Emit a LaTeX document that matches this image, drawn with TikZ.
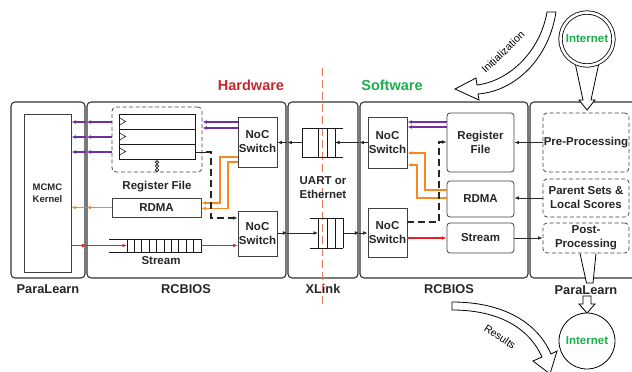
\documentclass[tikz,border=0pt]{standalone}
\usepackage{fontspec}
\setmainfont{Liberation Sans}
\usetikzlibrary{arrows.meta}

\definecolor{lnpurple}{HTML}{7030A0}
\definecolor{lnorange}{HTML}{F7891F}
\definecolor{lnred}{HTML}{EE1C25}
\definecolor{hwred}{HTML}{C4262E}
\definecolor{swgreen}{HTML}{1EAD4B}
\definecolor{divcol}{HTML}{EA7A5C}

\newcommand\boxfont{\fontsize{11.5}{14}\selectfont\bfseries}
\newcommand\kernfont{\fontsize{9.5}{12}\selectfont\bfseries}
\newcommand\tagfont{\fontsize{12.8}{15}\selectfont\bfseries}
\newcommand\headfont{\fontsize{14.5}{17}\selectfont\bfseries}
\newcommand\bandfont{\fontsize{10.5}{12}\selectfont}

\begin{document}
\begin{tikzpicture}[x=1pt,y=-1pt,>={Latex[length=4.5pt,width=3.8pt]},
  panel/.style={draw=black!80,line width=1.1pt,rounded corners=4pt,minimum height=176pt,inner sep=0pt},
  blk/.style={draw=black!75,line width=0.75pt,align=center,font=\boxfont,inner sep=0pt,text=black!85},
  rblk/.style={blk,rounded corners=3pt},
  dblk/.style={blk,dash pattern=on 4pt off 2.5pt,rounded corners=4pt},
  tag/.style={font=\tagfont,text=black!85},
  wire/.style={draw=black!85,line width=1pt},
  pwire/.style={draw=lnpurple,line width=1.2pt},
  owire/.style={draw=lnorange,line width=1.2pt},
  rwire/.style={draw=lnred,line width=1.2pt},
  dwire/.style={wire,line width=1.1pt,dash pattern=on 7pt off 4pt},
  qline/.style={draw=black!90,line width=0.75pt},
  hollow/.style={draw=black,line width=0.8pt,fill=white,line join=miter},
  netball/.style={circle,draw=black,line width=0.8pt,fill=white,text=swgreen,font=\boxfont,inner sep=0pt},
]
\useasboundingbox (0,0) rectangle (632,372);
\clip (0,0) rectangle (632,372);

% panels
\node[panel,minimum width=74pt] (plL) at (48,190) {};
\node[panel,minimum width=199pt] (hw) at (186.5,190) {};
\node[panel,minimum width=70pt] (xl) at (323,190) {};
\node[panel,minimum width=168pt] (sw) at (444,190) {};
\node[panel,minimum width=115pt] (plR) at (587.5,190) {};

\node[tag] (tplL) at (48,289) {ParaLearn};
\node[tag] (thw) at (186,289) {RCBIOS};
\node[tag] (txl) at (323,289) {XLink};
\node[tag] (tsw) at (449,289) {RCBIOS};
\node[tag] (tplR) at (586,290) {ParaLearn};

\node[font=\headfont,text=hwred] (hwhead) at (251,85) {Hardware};
\node[font=\headfont,text=swgreen] (swhead) at (392,85) {Software};

% divider
\draw[divcol,line width=1pt,dash pattern=on 8pt off 4pt] (322,68) -- (322,304);

% ParaLearn (left)
\node[blk,minimum width=47pt,minimum height=158pt,font=\kernfont] (kernel) at (47.5,193) {MCMC\\Kernel};

% RCBIOS hardware
\node[dblk,minimum width=90pt,minimum height=65pt] (rfhw) at (157,139.5) {};
\draw[qline] (119,114) rectangle (195,159);
\draw[qline] (119,129) -- (195,129) (119,144) -- (195,144);
\foreach \y in {114,129,144}
  \draw[line width=0.5pt] (119,\y+3.5) -- (125.5,\y+7.5) -- (119,\y+11.5);
\foreach \y in {162.3,166.1,169.9}
  \draw[line width=0.6pt] (157,\y) circle (1.7);
\node[font=\boxfont,text=black!85] (rfhwlbl) at (157,187) {Register File};
\node[blk,minimum width=89pt,minimum height=19pt] (rdmahw) at (156.5,207.5) {RDMA};
\node[blk,minimum width=39pt,minimum height=50pt] (nochw1) at (257.5,142) {NoC\\Switch};
\node[blk,minimum width=39pt,minimum height=45pt] (nochw2) at (257.5,233.5) {NoC\\Switch};
% stream queue
\draw[qline] (109,239) -- (201,239) -- (201,252) -- (109,252);
\foreach \x in {127,134.4,...,196}
  \draw[qline] (\x,239) -- (\x,252);
\coordinate (qin) at (127,245.5);
\coordinate (qout) at (201,245.5);
\node[font=\boxfont,text=black!85] (streamhw) at (161,261) {Stream};

% XLink
\draw[qline] (302,128) -- (343,128) (302,157) -- (343,157);
\foreach \x in {302,318,327,335}
  \draw[qline] (\x,128) -- (\x,157);
\draw[qline] (310,218) -- (343,218) (310,248) -- (343,248);
\foreach \x in {318,327,335,343}
  \draw[qline] (\x,218) -- (\x,248);
\coordinate (qtopin) at (335,142.5);
\coordinate (qtopout) at (302,142.5);
\coordinate (qbotin) at (318,233);
\coordinate (qbotout) at (343,233);
\node[font=\boxfont,text=black!85,align=center] (uart) at (323,188) {UART or\\Ethernet};

% RCBIOS software
\node[blk,minimum width=39pt,minimum height=51pt] (nocsw1) at (387.5,142.5) {NoC\\Switch};
\node[blk,minimum width=39pt,minimum height=49pt] (nocsw2) at (387.5,232.5) {NoC\\Switch};
\node[rblk,minimum width=67pt,minimum height=59pt] (rfsw) at (480.5,142.5) {Register\\File};
\node[rblk,minimum width=67pt,minimum height=36pt] (rdmasw) at (480.5,199) {RDMA};
\node[rblk,minimum width=67pt,minimum height=30pt] (streamsw) at (480.5,238) {Stream};

% ParaLearn (right)
\node[dblk,minimum width=86pt,minimum height=59pt] (pre) at (586,142.5) {Pre-Processing};
\node[dblk,minimum width=86pt,minimum height=38pt] (parent) at (586,198) {Parent Sets \&\\Local Scores};
\node[dblk,minimum width=86pt,minimum height=30pt] (post) at (586,238) {Post-\\Processing};

% hardware wires
\foreach \y in {122,137,152}{
  \draw[pwire,->] (rfhw.west |- 0,\y) -- (hw.west |- 0,\y);
  \draw[pwire,->] (hw.west |- 0,\y) -- (kernel.east |- 0,\y);
}
\foreach \y in {122,128}
  \draw[pwire,->] (nochw1.west |- 0,\y) -- (rfhw.east |- 0,\y);
\draw[owire,->] (nochw1.west |- 0,157) -| (220,203) -- (rdmahw.east |- 0,203);
\draw[owire,->] (nochw1.west |- 0,162) -| (228,208.5) -- (rdmahw.east |- 0,208.5);
\draw[owire,->] (rdmahw.west |- 0,207.5) -- (hw.west |- 0,207.5);
\draw[owire,->] (hw.west |- 0,207.5) -- (kernel.east |- 0,207.5);
\draw[rwire,->] (kernel.east |- qin) -- (hw.west |- qin);
\draw[rwire,->] (hw.west |- qin) -- (qin);
\draw[rwire,->] (qout) -- (nochw2.west |- qout);
\draw[wire] (195,152) -- (206,152);
\draw[dwire,->] (206,152) -| (211,218) -- (nochw2.west |- 0,218);

% link wires
\draw[wire,->] (nocsw1.west |- qtopin) -- (sw.west |- qtopin);
\draw[wire,->] (sw.west |- qtopin) -- (qtopin);
\draw[wire,->] (qtopout) -- (xl.west |- qtopout);
\draw[wire,->] (xl.west |- qtopout) -- (nochw1.east |- qtopout);
\draw[wire,->] (nochw2.east |- qbotin) -- (xl.west |- qbotin);
\draw[wire,->] (xl.west |- qbotin) -- (qbotin);
\draw[wire,->] (qbotout) -- (sw.west |- qbotout);
\draw[wire,->] (sw.west |- qbotout) -- (nocsw2.west |- qbotout);

% software wires
\foreach \y in {122,127}
  \draw[pwire,->] (rfsw.west |- 0,\y) -- (nocsw1.east |- 0,\y);
\draw[owire,->] (rdmasw.west |- 0,190) -| (425,153) -- (nocsw1.east |- 0,153);
\draw[owire,->] (rdmasw.west |- 0,198) -| (417,165) -- (nocsw1.east |- 0,165);
\draw[dwire,->] (nocsw2.east |- 0,222) -| (439,142) -- (rfsw.west |- 0,142);
\draw[rwire,->] (nocsw2.east |- 0,238) -- (streamsw.west |- 0,238);
\draw[wire,->] (pre.west |- 0,142.5) -- (rfsw.east |- 0,142.5);
\draw[wire,->] (parent.west |- 0,198) -- (rdmasw.east |- 0,198);
\draw[wire,->] (streamsw.east |- 0,238) -- (post.west |- 0,238);

% internet in
\draw[hollow] (574,58) -- (583,100) -- (579,100) -- (587,110) -- (595,100) -- (591,100) -- (600,58);
\node[netball,minimum size=53pt,double,double distance=2.6pt] (netin) at (587,39) {Internet};

% internet out
\draw[hollow] (580,253.5) -- (586.5,283) -- (593,283) -- (596,253.5);
\draw[hollow] (583,296) -- (583,304) -- (579,304) -- (587,313) -- (595,304) -- (591,304) -- (591,296) -- cycle;
\node[netball,minimum size=56pt] (netout) at (587,341) {Internet};

% bands
\draw[hollow] (547,12) -- (556,12) .. controls (549,58) and (516,91) .. (478,94)
  -- (479,100) -- (455,89) -- (476,78) -- (477,85) .. controls (509,81) and (540,52) .. cycle;
\node[font=\bandfont,rotate=44] (initlbl) at (503,52) {Initialization};
\draw[hollow] (452,302) .. controls (500,302) and (536,320) .. (551,354)
  -- (557,351) -- (550,374) -- (533,361) -- (542,357)
  .. controls (528,326) and (496,310) .. (452,310) -- cycle;
\node[font=\bandfont,rotate=-33] (reslbl) at (500,337) {Results};
\end{tikzpicture}
\end{document}
